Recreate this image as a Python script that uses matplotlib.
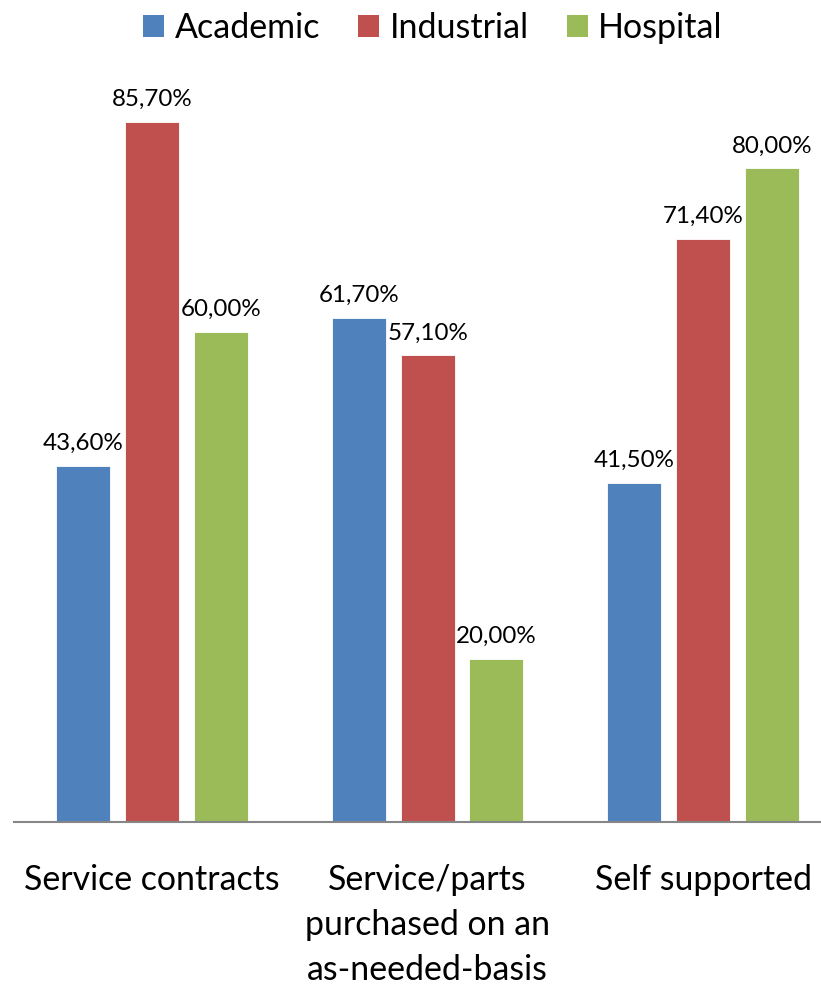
import matplotlib
matplotlib.use("Agg")
import matplotlib.pyplot as plt
from matplotlib.patches import Patch
import numpy as np

categories = ["Service contracts", "Service/parts\npurchased on an\nas-needed-basis", "Self supported"]
series_names = ["Academic", "Industrial", "Hospital"]
academic = [43.6, 61.7, 41.5]
industrial = [85.7, 57.1, 71.4]
hospital = [60.0, 20.0, 80.0]
colors = ["#4F81BD", "#C0504D", "#9BBB59"]

plt.rcParams['font.family'] = ['Lato', 'DejaVu Sans']

fig = plt.figure(figsize=(8.21, 9.85), dpi=100)
W, H = 821, 985
ax = fig.add_axes([14 / W, (H - 822) / H, 1 - 14 / W, (822 - 5) / H])

x = np.arange(len(categories))
width = 0.196
offsets = [-0.25, 0.0, 0.25]
all_series = [academic, industrial, hospital]
for vals, off, col in zip(all_series, offsets, colors):
    bars = ax.bar(x + off, vals, width, color=col, edgecolor="white", linewidth=0.6)
    for b, v in zip(bars, vals):
        ax.annotate(f"{v:.2f}%".replace(".", ","),
                    (b.get_x() + b.get_width() / 2, v),
                    xytext=(0, 8.5), textcoords="offset points",
                    ha="center", va="bottom", fontsize=17.4, color="#000000")

ax.set_xlim(-0.501, 2.428)
ax.set_ylim(0, 100)
for s in ["top", "right", "left"]:
    ax.spines[s].set_visible(False)
ax.spines["bottom"].set_color("#868686")
ax.spines["bottom"].set_linewidth(1.5)
ax.set_yticks([])
ax.set_xticks(x)
ax.set_xticklabels(categories, fontsize=24.4, linespacing=1.5)
ax.tick_params(axis="x", length=0, pad=30)
for lbl in ax.get_xticklabels():
    lbl.set_verticalalignment("top")

handles = [Patch(facecolor=c, edgecolor="none") for c in colors]
fig.legend(handles, series_names, loc="center", bbox_to_anchor=(433 / W, 1 - 28 / H),
           ncol=3, frameon=False, fontsize=24.5, handlelength=0.62, handleheight=0.62,
           handletextpad=0.3, columnspacing=1.12)

fig.savefig("out.png", dpi=100)
